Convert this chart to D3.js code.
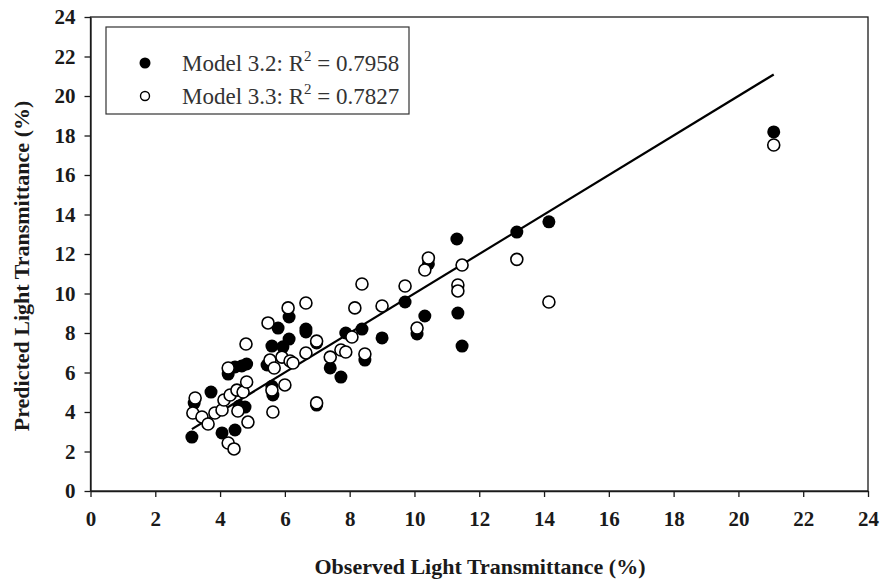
<!DOCTYPE html>
<html>
<head>
<meta charset="utf-8">
<script src="https://cdn.jsdelivr.net/npm/d3@7"></script>
<style>
  html, body { margin: 0; padding: 0; background: #fff; }
  svg { display: block; }
</style>
</head>
<body>
<svg id="chart" width="883" height="585"></svg>
<script>
// Observed vs. predicted light transmittance (%), two models
const model32 = [
  [3.13, 2.73], [3.20, 4.45], [3.72, 5.01], [4.06, 2.94], [4.46, 3.09],
  [4.25, 5.92], [4.46, 6.28], [4.67, 6.33], [4.82, 6.43], [4.59, 4.30],
  [4.77, 4.25], [5.45, 6.38], [5.60, 7.34], [5.63, 4.86], [5.60, 5.30],
  [5.79, 8.25], [5.94, 7.30], [6.13, 7.69], [6.13, 8.81], [6.65, 8.20],
  [6.65, 8.05], [6.98, 4.35], [7.40, 6.23], [7.73, 5.77], [7.88, 8.00],
  [8.38, 8.20], [8.47, 6.63], [9.00, 7.75], [9.71, 9.57], [10.08, 7.95],
  [10.32, 8.86], [10.43, 11.50], [11.31, 12.76], [11.34, 9.01], [11.47, 7.34],
  [13.16, 13.11], [14.15, 13.63], [21.09, 18.18], [6.98, 7.50]
];
const model33 = [
  [3.23, 4.71], [3.16, 3.95], [3.44, 3.75], [3.63, 3.39], [3.84, 3.95],
  [4.06, 4.10], [4.12, 4.61], [4.31, 4.86], [4.52, 5.11], [4.71, 5.01],
  [4.82, 5.52], [4.55, 4.05], [4.86, 3.49], [4.25, 2.43], [4.43, 2.13],
  [4.25, 6.23], [4.80, 7.44], [5.48, 8.51], [6.10, 9.27], [6.65, 9.52],
  [5.60, 5.11], [5.63, 4.00], [6.00, 5.37], [5.54, 6.63], [5.67, 6.23],
  [5.91, 6.78], [6.16, 6.58], [6.25, 6.48], [6.65, 6.99], [6.98, 7.59],
  [6.98, 4.46], [7.40, 6.78], [7.73, 7.14], [7.88, 7.04], [8.07, 7.80],
  [8.16, 9.27], [8.38, 10.48], [8.47, 6.94], [9.00, 9.37], [9.71, 10.38],
  [10.08, 8.25], [10.32, 11.19], [10.43, 11.80], [11.34, 10.43], [11.34, 10.13],
  [11.47, 11.44], [13.16, 11.73], [14.15, 9.57], [21.09, 17.52]
];
const legendLabels = ["Model 3.2: R", "Model 3.3: R"];
const legendR2 = ["0.7958", "0.7827"];
const xTicks = d3.range(0, 25, 2);
const yTicks = d3.range(0, 25, 2);
const xTitle = "Observed Light Transmittance (%)";
const yTitle = "Predicted Light Transmittance (%)";

const svg = d3.select("#chart");
const m = { left: 90.5, right: 868, top: 17, bottom: 491 };
const x = d3.scaleLinear().domain([0, 24]).range([m.left, m.right]);
const y = d3.scaleLinear().domain([0, 24]).range([m.bottom, m.top]);

const serif = "'Liberation Serif', 'Times New Roman', serif";
const ink = "#1a1a1a";

// Frame
svg.append("rect")
  .attr("x", m.left).attr("y", m.top)
  .attr("width", m.right - m.left).attr("height", m.bottom - m.top)
  .attr("fill", "none").attr("stroke", ink).attr("stroke-width", 1.3);

// Axes
const xAxis = svg.append("g")
  .attr("transform", `translate(0,${m.bottom})`)
  .call(d3.axisBottom(x).tickValues(xTicks).tickSize(6).tickPadding(14).tickSizeOuter(0));
const yAxis = svg.append("g")
  .attr("transform", `translate(${m.left},0)`)
  .call(d3.axisLeft(y).tickValues(yTicks).tickSize(6).tickPadding(9).tickSizeOuter(0));

[xAxis, yAxis].forEach(g => {
  g.select(".domain").attr("stroke", ink).attr("stroke-width", 1.3);
  g.selectAll(".tick line").attr("stroke", ink).attr("stroke-width", 1.3);
  g.selectAll(".tick text")
    .attr("fill", ink)
    .style("font-family", serif)
    .style("font-weight", "bold")
    .style("font-size", "21px");
});

// Axis titles
svg.append("text")
  .attr("x", 480).attr("y", 574)
  .attr("text-anchor", "middle")
  .attr("fill", ink)
  .style("font-family", serif).style("font-weight", "bold").style("font-size", "22px")
  .text(xTitle);
svg.append("text")
  .attr("transform", `translate(29,${266}) rotate(-90)`)
  .attr("text-anchor", "middle")
  .attr("fill", ink)
  .style("font-family", serif).style("font-weight", "bold").style("font-size", "22px")
  .text(yTitle);

// 1:1 line across the observed range
const allObs = model32.map(d => d[0]).concat(model33.map(d => d[0]));
const [lo, hi] = d3.extent(allObs);
svg.append("line")
  .attr("x1", x(lo)).attr("y1", y(lo))
  .attr("x2", x(hi)).attr("y2", y(hi))
  .attr("stroke", "#000").attr("stroke-width", 2.2);

// Points: Model 3.2 filled, Model 3.3 open (drawn on top)
svg.append("g").selectAll("circle").data(model32).join("circle")
  .attr("cx", d => x(d[0])).attr("cy", d => y(d[1]))
  .attr("r", 6.5).attr("fill", "#000");
svg.append("g").selectAll("circle").data(model33).join("circle")
  .attr("cx", d => x(d[0])).attr("cy", d => y(d[1]))
  .attr("r", 6).attr("fill", "#fff").attr("stroke", "#000").attr("stroke-width", 1.6);

// Legend
const lg = svg.append("g");
lg.append("rect")
  .attr("x", 106).attr("y", 27).attr("width", 303).attr("height", 87)
  .attr("fill", "#fff").attr("stroke", "#333").attr("stroke-width", 1.2);
legendLabels.forEach((lab, i) => {
  const cy = 63 + i * 33;
  const mk = lg.append("circle").attr("cx", 145).attr("cy", cy);
  if (i === 0) mk.attr("r", 5.5).attr("fill", "#000");
  else mk.attr("r", 4.5).attr("fill", "#fff").attr("stroke", "#000").attr("stroke-width", 1.4);
  const t = lg.append("text")
    .attr("x", 182).attr("y", cy + 8)
    .attr("fill", "#333")
    .style("font-family", serif).style("font-size", "23px");
  t.append("tspan").text(lab);
  t.append("tspan").attr("dy", -10).style("font-size", "15px").text("2");
  t.append("tspan").attr("dy", 10).text(" = " + legendR2[i]);
});
</script>
</body>
</html>
